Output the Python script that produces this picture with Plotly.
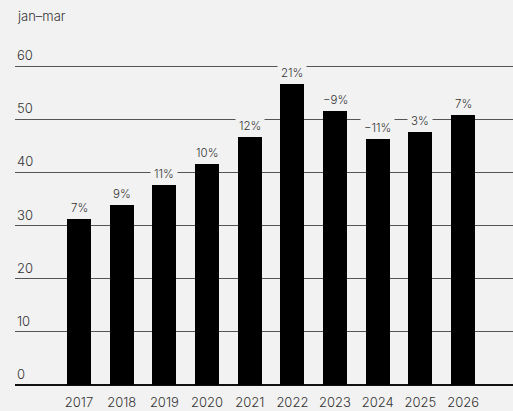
import plotly.graph_objects as go

# Sales index, January–March each year
years = [2017, 2018, 2019, 2020, 2021, 2022, 2023, 2024, 2025, 2026]
values = [31.2, 33.8, 37.6, 41.5, 46.6, 56.6, 51.5, 46.2, 47.6, 50.8]
changes = ["7%", "9%", "11%", "10%", "12%", "21%", "−9%", "−11%", "3%", "7%"]
y_ticks = [0, 10, 20, 30, 40, 50, 60]
period_label = "jan–mar"

BG = "#f2f2f2"
FONT = "Inter"
TEXT = "#333333"

fig = go.Figure()
fig.add_trace(go.Bar(
    x=years,
    y=values,
    width=0.5625,
    marker=dict(color="#000000", line=dict(width=0)),
    hoverinfo="skip",
))

annotations = []
# Change labels above each bar, boxed in the background colour so gridlines break around them
for yr, v, c in zip(years, values, changes):
    annotations.append(dict(
        x=yr, y=v, xref="x", yref="y", text=c, showarrow=False,
        yanchor="bottom", yshift=0,
        font=dict(family=FONT, size=11.5, color=TEXT, weight=300),
        bgcolor=BG, borderpad=3,
    ))
# Y-axis values sit above their gridlines, left aligned
for t in y_ticks:
    annotations.append(dict(
        x=0, y=t, xref="paper", yref="y", text=str(t), showarrow=False,
        xanchor="left", yanchor="bottom", xshift=0, yshift=1,
        font=dict(family=FONT, size=13, color=TEXT, weight=300),
    ))
annotations.append(dict(
    x=0, y=1, xref="paper", yref="paper", text=period_label, showarrow=False,
    xanchor="left", yanchor="bottom", yshift=29,
    font=dict(family=FONT, size=13, color=TEXT, weight=300),
))

fig.update_layout(
    width=513, height=411,
    margin=dict(l=15, r=0, t=55, b=26),
    paper_bgcolor=BG, plot_bgcolor=BG,
    showlegend=False,
    bargap=0,
    annotations=annotations,
    xaxis=dict(
        range=[2015.5, 2027.17],
        tickmode="array", tickvals=years, ticktext=[str(y) for y in years],
        showgrid=False, zeroline=False, showline=False, ticks="",
        ticklabelstandoff=8,
        tickfont=dict(family=FONT, size=13, color=TEXT, weight=300),
        fixedrange=True,
    ),
    yaxis=dict(
        range=[0, 62.07],
        tickmode="array", tickvals=y_ticks, showticklabels=False,
        showgrid=True, gridcolor="#555555", gridwidth=1,
        zeroline=True, zerolinecolor="#111111", zerolinewidth=2,
        showline=False, ticks="",
        fixedrange=True,
    ),
)

fig.write_html("out.html", config={"displayModeBar": False})
